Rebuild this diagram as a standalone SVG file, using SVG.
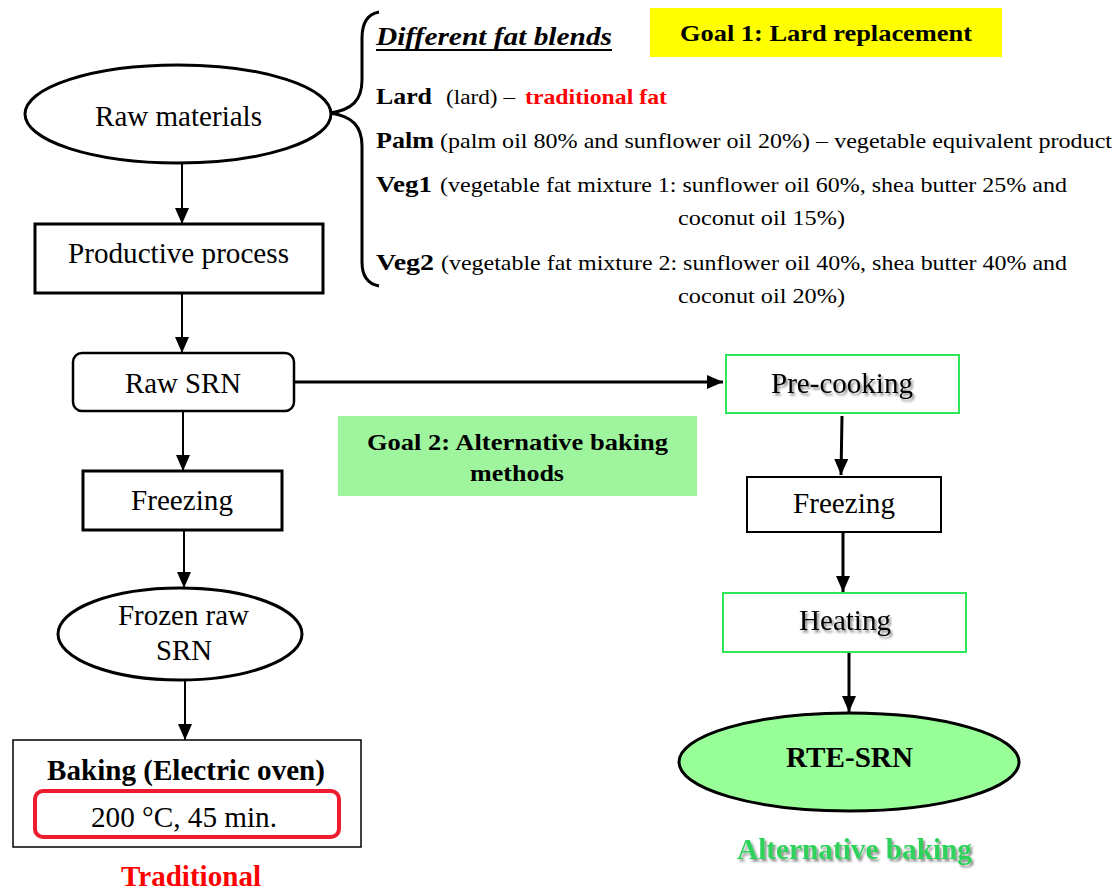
<svg xmlns="http://www.w3.org/2000/svg" width="1119" height="890" viewBox="0 0 1119 890">
<style>
text{font-family:'Liberation Serif',serif;fill:#000}
.n{font-size:29px}
.b{font-weight:bold}
.s{font-size:22px}
.nm{font-size:24px;font-weight:bold}
.blk{fill:#fff;stroke:#000;stroke-width:3}
.grn{fill:#fff;stroke:#2ee85a;stroke-width:2}
.c{fill:none;stroke:#000;stroke-width:2}
.c3{fill:none;stroke:#000;stroke-width:3}
.sh{filter:url(#shadow)}
</style>
<defs>
<marker id="ah" markerUnits="userSpaceOnUse" viewBox="0 0 16 14" refX="16" refY="7" markerWidth="16" markerHeight="14" orient="auto">
<path d="M0,0 L16,7 L0,14 Z" fill="#000"/>
</marker>
<filter id="shadow" x="-10%" y="-30%" width="130%" height="170%">
<feDropShadow dx="2" dy="2.5" stdDeviation="1.3" flood-color="#000" flood-opacity="0.45"/>
</filter>
</defs>

<g id="connectors">
<line class="c" x1="182" y1="163" x2="182" y2="224" marker-end="url(#ah)"/>
<line class="c" x1="182" y1="293" x2="182" y2="353" marker-end="url(#ah)"/>
<line class="c" x1="183" y1="411" x2="183" y2="471" marker-end="url(#ah)"/>
<line class="c" x1="184" y1="530" x2="184" y2="588" marker-end="url(#ah)"/>
<line class="c" x1="185" y1="680" x2="185" y2="740" marker-end="url(#ah)"/>
<line class="c3" x1="294" y1="382" x2="723" y2="382" marker-end="url(#ah)"/>
<line class="c3" x1="842" y1="416" x2="841" y2="475" marker-end="url(#ah)"/>
<line class="c3" x1="843" y1="533" x2="843" y2="592" marker-end="url(#ah)"/>
<line class="c3" x1="849" y1="652" x2="849" y2="712" marker-end="url(#ah)"/>
</g>

<g id="brace">
<path d="M330,113 C352,110 362,100 362,80 L362,38 C362,22 368,14 379,12" fill="none" stroke="#000" stroke-width="3"/>
<path d="M330,113 C352,116 362,126 362,146 L362,262 C362,276 368,284 379,286" fill="none" stroke="#000" stroke-width="3"/>
</g>

<g id="fat-blends">
<text x="376" y="45" class="b" font-size="26" font-style="italic" textLength="236" lengthAdjust="spacingAndGlyphs">Different fat blends</text>
<line x1="376" y1="50" x2="612" y2="50" stroke="#000" stroke-width="2"/>
<text x="376" y="104" class="nm" textLength="56" lengthAdjust="spacingAndGlyphs">Lard</text>
<text x="446" y="104" font-size="20" textLength="69" lengthAdjust="spacingAndGlyphs">(lard) –</text>
<text x="525" y="104" class="b" font-size="21" style="fill:#ff0000" textLength="142" lengthAdjust="spacingAndGlyphs">traditional fat</text>
<text x="376" y="148" class="nm" textLength="58" lengthAdjust="spacingAndGlyphs">Palm</text>
<text x="440" y="148" class="s" textLength="672" lengthAdjust="spacingAndGlyphs">(palm oil 80% and sunflower oil 20%) – vegetable equivalent product</text>
<text x="376" y="192" class="nm" textLength="56" lengthAdjust="spacingAndGlyphs">Veg1</text>
<text x="440" y="192" class="s" textLength="627" lengthAdjust="spacingAndGlyphs">(vegetable fat mixture 1: sunflower oil 60%, shea butter 25% and</text>
<text x="678" y="225" class="s" textLength="167" lengthAdjust="spacingAndGlyphs">coconut oil 15%)</text>
<text x="376" y="270" class="nm" textLength="58" lengthAdjust="spacingAndGlyphs">Veg2</text>
<text x="441" y="270" class="s" textLength="626" lengthAdjust="spacingAndGlyphs">(vegetable fat mixture 2: sunflower oil 40%, shea butter 40% and</text>
<text x="678" y="303" class="s" textLength="167" lengthAdjust="spacingAndGlyphs">coconut oil 20%)</text>
</g>

<g id="goal1">
<rect x="650" y="8" width="352" height="49" fill="#ffff00"/>
<text x="680" y="41" class="b" font-size="24" textLength="292" lengthAdjust="spacingAndGlyphs">Goal 1: Lard replacement</text>
</g>

<g id="goal2">
<rect x="338" y="416" width="359" height="80" fill="#9ef59e"/>
<text x="367" y="450" class="b" font-size="24" textLength="301" lengthAdjust="spacingAndGlyphs">Goal 2: Alternative baking</text>
<text x="470" y="481" class="b" font-size="24" textLength="94" lengthAdjust="spacingAndGlyphs">methods</text>
</g>

<g id="raw-materials">
<ellipse cx="178" cy="114" rx="153" ry="49" class="blk"/>
<text x="95" y="126" class="n" textLength="167" lengthAdjust="spacingAndGlyphs">Raw materials</text>
</g>

<g id="productive-process">
<rect x="35" y="224" width="288" height="69" class="blk"/>
<text x="68" y="263" class="n" textLength="221" lengthAdjust="spacingAndGlyphs">Productive process</text>
</g>

<g id="raw-srn">
<rect x="73" y="353" width="221" height="58" rx="9" class="blk" style="stroke-width:2.5"/>
<text x="125" y="393" class="n" textLength="116" lengthAdjust="spacingAndGlyphs">Raw SRN</text>
</g>

<g id="freezing-left">
<rect x="83" y="471" width="199" height="59" class="blk"/>
<text x="131" y="510" class="n" textLength="102" lengthAdjust="spacingAndGlyphs">Freezing</text>
</g>

<g id="frozen-raw-srn">
<ellipse cx="180" cy="634" rx="122" ry="46" class="blk"/>
<text x="118" y="625" class="n" textLength="131" lengthAdjust="spacingAndGlyphs">Frozen raw</text>
<text x="156" y="660" class="n" textLength="56" lengthAdjust="spacingAndGlyphs">SRN</text>
</g>

<g id="baking">
<rect x="13" y="740" width="348" height="107" fill="#fff" stroke="#000" stroke-width="1.5"/>
<text x="47" y="780" class="n b" font-size="27" textLength="278" lengthAdjust="spacingAndGlyphs">Baking (Electric oven)</text>
<rect x="35" y="791" width="304" height="46" rx="8" fill="none" stroke="#ee1c2e" stroke-width="4"/>
<text x="91" y="827" class="n" textLength="186" lengthAdjust="spacingAndGlyphs">200 °C, 45 min.</text>
</g>

<g id="traditional-label">
<text x="121" y="886" class="n b" style="fill:#ff0000" textLength="140" lengthAdjust="spacingAndGlyphs">Traditional</text>
</g>

<g id="pre-cooking">
<rect x="726" y="355" width="233" height="58" class="grn"/>
<text x="771" y="393" class="n sh" textLength="142" lengthAdjust="spacingAndGlyphs">Pre-cooking</text>
</g>

<g id="freezing-right">
<rect x="747" y="477" width="194" height="55" fill="#fff" stroke="#000" stroke-width="2"/>
<text x="793" y="513" class="n" textLength="102" lengthAdjust="spacingAndGlyphs">Freezing</text>
</g>

<g id="heating">
<rect x="723" y="593" width="243" height="59" class="grn"/>
<text x="799" y="630" class="n sh" textLength="92" lengthAdjust="spacingAndGlyphs">Heating</text>
</g>

<g id="rte-srn">
<ellipse cx="849" cy="762" rx="170" ry="49" fill="#99ff99" stroke="#000" stroke-width="3"/>
<text x="786" y="767" class="n b" textLength="127" lengthAdjust="spacingAndGlyphs">RTE-SRN</text>
</g>

<g id="alternative-label">
<text x="737" y="859" class="n b sh" style="fill:#2fd25a" textLength="235" lengthAdjust="spacingAndGlyphs">Alternative baking</text>
</g>
</svg>
